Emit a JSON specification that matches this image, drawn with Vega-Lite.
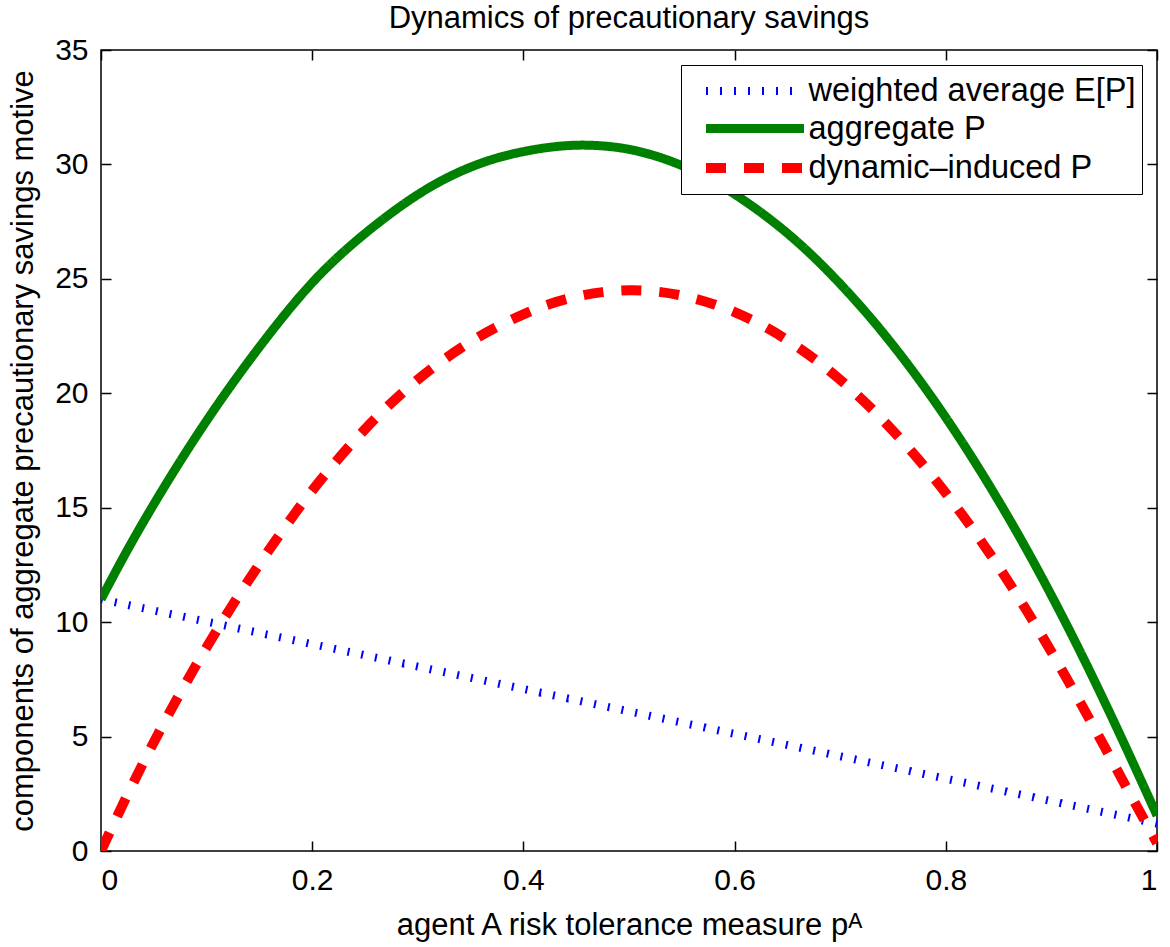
{
  "$schema": "https://vega.github.io/schema/vega-lite/v6.json",
  "autosize": {"type": "none"},
  "width": 1056,
  "height": 801,
  "padding": {"left": 101, "top": 50, "right": 13, "bottom": 96},
  "background": "white",
  "config": {
    "font": "Liberation Sans",
    "view": {"stroke": "black", "strokeWidth": 1.5},
    "axis": {"grid": false, "domain": false, "tickColor": "black", "tickSize": -10, "tickWidth": 1.5, "labelColor": "black", "titleColor": "black", "labelFont": "Liberation Sans", "titleFont": "Liberation Sans", "titleFontWeight": "normal", "labelFontSize": 30, "titleFontSize": 31}
  },
  "title": {"text": "Dynamics of precautionary savings", "fontSize": 31, "fontWeight": "normal", "font": "Liberation Sans", "color": "black", "offset": 0},
  "datasets": {
    "curves": [
      {"s": "weighted average E[P]", "x": 0.0, "v": 11.0},
      {"s": "weighted average E[P]", "x": 0.1, "v": 10.02},
      {"s": "weighted average E[P]", "x": 0.2, "v": 9.04},
      {"s": "weighted average E[P]", "x": 0.3, "v": 8.06},
      {"s": "weighted average E[P]", "x": 0.4, "v": 7.08},
      {"s": "weighted average E[P]", "x": 0.5, "v": 6.1},
      {"s": "weighted average E[P]", "x": 0.6, "v": 5.12},
      {"s": "weighted average E[P]", "x": 0.7, "v": 4.14},
      {"s": "weighted average E[P]", "x": 0.8, "v": 3.16},
      {"s": "weighted average E[P]", "x": 0.9, "v": 2.18},
      {"s": "weighted average E[P]", "x": 1.0, "v": 1.2},
      {"s": "aggregate P", "x": 0.0, "v": 11.0},
      {"s": "aggregate P", "x": 0.025, "v": 13.15},
      {"s": "aggregate P", "x": 0.05, "v": 15.15},
      {"s": "aggregate P", "x": 0.075, "v": 17.03},
      {"s": "aggregate P", "x": 0.1, "v": 18.8},
      {"s": "aggregate P", "x": 0.125, "v": 20.46},
      {"s": "aggregate P", "x": 0.15, "v": 22.02},
      {"s": "aggregate P", "x": 0.175, "v": 23.49},
      {"s": "aggregate P", "x": 0.2, "v": 24.83},
      {"s": "aggregate P", "x": 0.225, "v": 25.98},
      {"s": "aggregate P", "x": 0.25, "v": 26.98},
      {"s": "aggregate P", "x": 0.275, "v": 27.88},
      {"s": "aggregate P", "x": 0.3, "v": 28.68},
      {"s": "aggregate P", "x": 0.325, "v": 29.35},
      {"s": "aggregate P", "x": 0.35, "v": 29.88},
      {"s": "aggregate P", "x": 0.375, "v": 30.28},
      {"s": "aggregate P", "x": 0.4, "v": 30.56},
      {"s": "aggregate P", "x": 0.425, "v": 30.75},
      {"s": "aggregate P", "x": 0.45, "v": 30.84},
      {"s": "aggregate P", "x": 0.475, "v": 30.81},
      {"s": "aggregate P", "x": 0.5, "v": 30.66},
      {"s": "aggregate P", "x": 0.525, "v": 30.37},
      {"s": "aggregate P", "x": 0.55, "v": 29.95},
      {"s": "aggregate P", "x": 0.575, "v": 29.39},
      {"s": "aggregate P", "x": 0.6, "v": 28.7},
      {"s": "aggregate P", "x": 0.625, "v": 27.9},
      {"s": "aggregate P", "x": 0.65, "v": 26.99},
      {"s": "aggregate P", "x": 0.675, "v": 25.95},
      {"s": "aggregate P", "x": 0.7, "v": 24.78},
      {"s": "aggregate P", "x": 0.725, "v": 23.5},
      {"s": "aggregate P", "x": 0.75, "v": 22.1},
      {"s": "aggregate P", "x": 0.775, "v": 20.58},
      {"s": "aggregate P", "x": 0.8, "v": 18.94},
      {"s": "aggregate P", "x": 0.825, "v": 17.18},
      {"s": "aggregate P", "x": 0.85, "v": 15.3},
      {"s": "aggregate P", "x": 0.875, "v": 13.3},
      {"s": "aggregate P", "x": 0.9, "v": 11.17},
      {"s": "aggregate P", "x": 0.925, "v": 8.92},
      {"s": "aggregate P", "x": 0.95, "v": 6.55},
      {"s": "aggregate P", "x": 0.975, "v": 4.08},
      {"s": "aggregate P", "x": 1.0, "v": 1.55},
      {"s": "dynamic–induced P", "x": 0.0, "v": 0.0},
      {"s": "dynamic–induced P", "x": 0.025, "v": 2.45},
      {"s": "dynamic–induced P", "x": 0.05, "v": 4.75},
      {"s": "dynamic–induced P", "x": 0.075, "v": 6.9},
      {"s": "dynamic–induced P", "x": 0.1, "v": 8.9},
      {"s": "dynamic–induced P", "x": 0.125, "v": 10.78},
      {"s": "dynamic–induced P", "x": 0.15, "v": 12.54},
      {"s": "dynamic–induced P", "x": 0.175, "v": 14.2},
      {"s": "dynamic–induced P", "x": 0.2, "v": 15.75},
      {"s": "dynamic–induced P", "x": 0.225, "v": 17.15},
      {"s": "dynamic–induced P", "x": 0.25, "v": 18.43},
      {"s": "dynamic–induced P", "x": 0.275, "v": 19.58},
      {"s": "dynamic–induced P", "x": 0.3, "v": 20.6},
      {"s": "dynamic–induced P", "x": 0.325, "v": 21.48},
      {"s": "dynamic–induced P", "x": 0.35, "v": 22.25},
      {"s": "dynamic–induced P", "x": 0.375, "v": 22.9},
      {"s": "dynamic–induced P", "x": 0.4, "v": 23.45},
      {"s": "dynamic–induced P", "x": 0.425, "v": 23.9},
      {"s": "dynamic–induced P", "x": 0.45, "v": 24.22},
      {"s": "dynamic–induced P", "x": 0.475, "v": 24.42},
      {"s": "dynamic–induced P", "x": 0.5, "v": 24.5},
      {"s": "dynamic–induced P", "x": 0.525, "v": 24.45},
      {"s": "dynamic–induced P", "x": 0.55, "v": 24.27},
      {"s": "dynamic–induced P", "x": 0.575, "v": 23.97},
      {"s": "dynamic–induced P", "x": 0.6, "v": 23.55},
      {"s": "dynamic–induced P", "x": 0.625, "v": 23.0},
      {"s": "dynamic–induced P", "x": 0.65, "v": 22.32},
      {"s": "dynamic–induced P", "x": 0.675, "v": 21.52},
      {"s": "dynamic–induced P", "x": 0.7, "v": 20.59},
      {"s": "dynamic–induced P", "x": 0.725, "v": 19.54},
      {"s": "dynamic–induced P", "x": 0.75, "v": 18.36},
      {"s": "dynamic–induced P", "x": 0.775, "v": 17.06},
      {"s": "dynamic–induced P", "x": 0.8, "v": 15.64},
      {"s": "dynamic–induced P", "x": 0.825, "v": 14.09},
      {"s": "dynamic–induced P", "x": 0.85, "v": 12.42},
      {"s": "dynamic–induced P", "x": 0.875, "v": 10.62},
      {"s": "dynamic–induced P", "x": 0.9, "v": 8.7},
      {"s": "dynamic–induced P", "x": 0.925, "v": 6.68},
      {"s": "dynamic–induced P", "x": 0.95, "v": 4.58},
      {"s": "dynamic–induced P", "x": 0.975, "v": 2.45},
      {"s": "dynamic–induced P", "x": 1.0, "v": 0.35}
    ]
  },
  "data": {"name": "curves"},
  "layer": [
    {
      "mark": {"type": "line", "clip": true, "strokeCap": "butt", "interpolate": "natural"},
      "encoding": {
        "x": {"field": "x", "type": "quantitative", "scale": {"domain": [0, 1], "nice": false, "zero": false},
              "axis": {"orient": "bottom", "values": [0, 0.2, 0.4, 0.6, 0.8, 1], "format": "~g", "labelPadding": 24, "title": "agent A risk tolerance measure pᴬ", "titlePadding": 15}},
        "y": {"field": "v", "type": "quantitative", "scale": {"domain": [0, 35], "nice": false},
              "axis": {"orient": "left", "values": [0, 5, 10, 15, 20, 25, 30, 35], "labelPadding": 23, "title": "components of aggregate precautionary savings motive", "titlePadding": 15}},
        "order": {"field": "x"},
        "color": {"field": "s", "type": "nominal",
                  "scale": {"domain": ["weighted average E[P]", "aggregate P", "dynamic–induced P"], "range": ["#0000ff", "#008000", "#ff0000"]},
                  "legend": {"title": null, "orient": "top-right", "offset": 15, "strokeColor": "black", "fillColor": "white", "padding": 6, "labelFontSize": 32.5, "labelFont": "Liberation Sans", "labelColor": "black", "symbolType": "M-3.1,0H3.1", "symbolSize": 1000, "symbolOffset": 47, "labelOffset": 32.5, "rowPadding": 0, "labelLimit": 500}},
        "strokeDash": {"field": "s", "type": "nominal",
                  "scale": {"domain": ["weighted average E[P]", "aggregate P", "dynamic–induced P"], "range": [[2, 12], [1, 0], [20, 18]]},
                  "legend": {"title": null}},
        "strokeWidth": {"field": "s", "type": "nominal",
                  "scale": {"domain": ["weighted average E[P]", "aggregate P", "dynamic–induced P"], "range": [8, 10, 10]},
                  "legend": {"title": null}}
      }
    },
    {
      "mark": {"type": "point", "opacity": 0},
      "encoding": {
        "x": {"field": "x", "type": "quantitative", "axis": {"orient": "top", "values": [0, 0.2, 0.4, 0.6, 0.8, 1], "labels": false, "title": null}},
        "y": {"field": "v", "type": "quantitative", "axis": {"orient": "right", "values": [0, 5, 10, 15, 20, 25, 30, 35], "labels": false, "title": null}}
      }
    }
  ],
  "resolve": {"axis": {"x": "independent", "y": "independent"}}
}
